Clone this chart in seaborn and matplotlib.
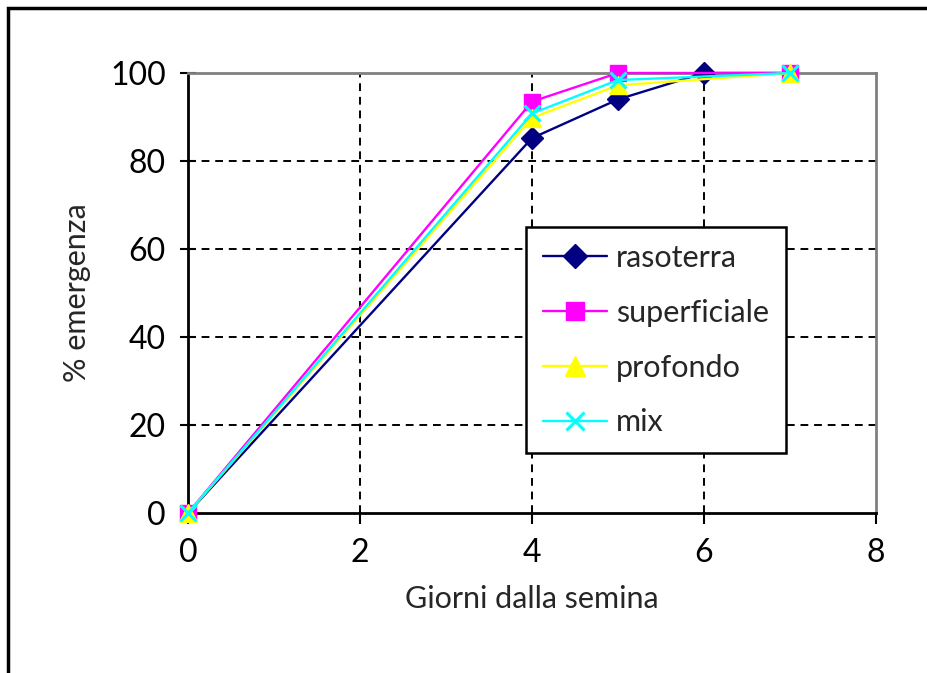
import matplotlib
matplotlib.use("Agg")
import matplotlib.pyplot as plt
import seaborn as sns
import pandas as pd
from matplotlib.patches import Rectangle

giorni_rasoterra = [0, 4, 5, 6, 7]
giorni_altri = [0, 4, 5, 7]
rasoterra = [0, 85.2, 94.0, 100, 100]
superficiale = [0, 93.5, 100, 100]
profondo = [0, 89.8, 97.2, 100]
mix = [0, 90.8, 98.4, 100]

# name: (x, y, colour, marker, marker size, which markers are drawn)
series = {
    "rasoterra": (giorni_rasoterra, rasoterra, "#000080", "D", 11, [1, 2, 3]),
    "superficiale": (giorni_altri, superficiale, "#FF00FF", "s", 12, None),
    "profondo": (giorni_altri, profondo, "#FFFF00", "^", 13, None),
    "mix": (giorni_altri, mix, "#00FFFF", "x", 12, None),
}

sns.set_theme(style="white")
plt.rcParams["font.family"] = ["Lato", "DejaVu Sans"]

fig = plt.figure(figsize=(9.27, 6.73), dpi=100)
ax = fig.add_axes([188 / 927, 1 - 513 / 673, (876 - 188) / 927, (513 - 73) / 673])

for name, (xs, vals, color, marker, ms, every) in series.items():
    df = pd.DataFrame({"giorni": xs, "emergenza": vals})
    sns.lineplot(data=df, x="giorni", y="emergenza", ax=ax, color=color,
                 marker=marker, markersize=ms, linewidth=1.7, markevery=every,
                 markeredgecolor=color, markeredgewidth=2.2 if marker == "x" else 1,
                 label=name, clip_on=False, zorder=3)

ax.set_xlim(0, 8)
ax.set_ylim(0, 100)
ax.set_xticks([0, 2, 4, 6, 8])
ax.set_yticks([0, 20, 40, 60, 80, 100])
ax.tick_params(axis="x", direction="out", length=8, width=1.5, colors="black",
               labelsize=23, pad=10, bottom=True)
ax.tick_params(axis="y", direction="inout", length=12, width=1.5, colors="black",
               labelsize=23, pad=10, left=True)

for v in [2, 4, 6]:
    ax.axvline(v, color="black", linestyle=(0, (4, 3)), linewidth=1.4, zorder=1)
for v in [20, 40, 60, 80]:
    ax.axhline(v, color="black", linestyle=(0, (4, 3)), linewidth=1.4, zorder=1)

for side in ["left", "bottom"]:
    ax.spines[side].set_color("black")
    ax.spines[side].set_linewidth(2)
for side in ["top", "right"]:
    ax.spines[side].set_color("#808080")
    ax.spines[side].set_linewidth(2)

ax.set_xlabel("Giorni dalla semina", fontsize=22, labelpad=12)
ax.set_ylabel("% emergenza", fontsize=22, labelpad=14)

leg = ax.legend(loc="upper left", bbox_to_anchor=(526 / 927, 1 - 227 / 673),
                bbox_transform=fig.transFigure, fontsize=22, frameon=True,
                fancybox=False, edgecolor="black", handlelength=2.1,
                labelspacing=0.88, borderpad=0.55, handletextpad=0.3,
                borderaxespad=0, markerscale=1.1)
leg.get_frame().set_linewidth(1.8)
leg.get_frame().set_alpha(1)

fig.patches.append(Rectangle((8 / 927, -0.1), 1.2, 1 - 8 / 673 + 0.1,
                             transform=fig.transFigure, fill=False,
                             edgecolor="black", linewidth=2.5))

fig.savefig("out.png", dpi=100, facecolor="white")
